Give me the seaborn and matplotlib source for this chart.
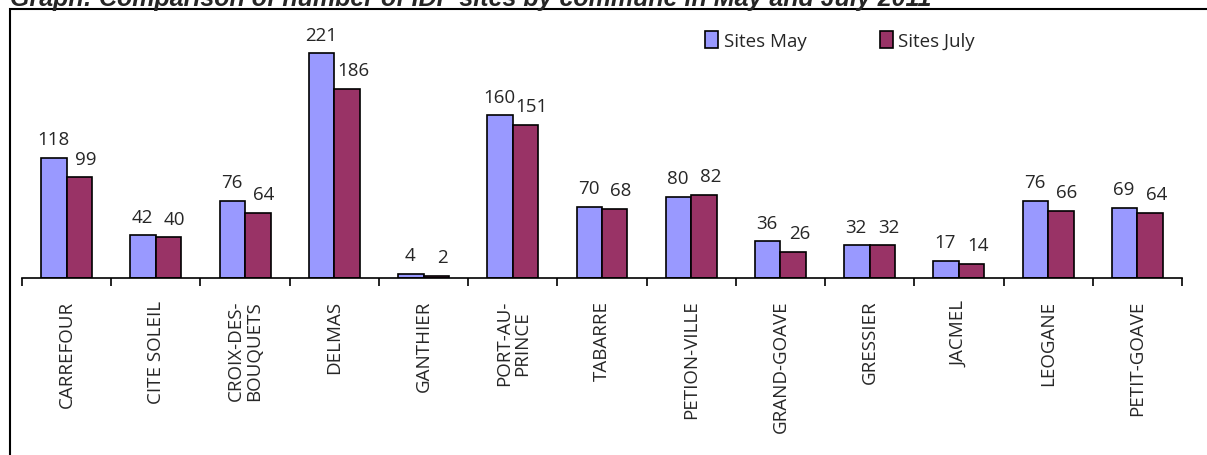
import matplotlib
matplotlib.use("Agg")
import matplotlib.pyplot as plt
import seaborn as sns
import pandas as pd
import numpy as np
from matplotlib.patches import Rectangle
from matplotlib.ticker import FixedLocator

communes = ["CARREFOUR", "CITE SOLEIL", "CROIX-DES-\nBOUQUETS", "DELMAS", "GANTHIER",
            "PORT-AU-\nPRINCE", "TABARRE", "PETION-VILLE", "GRAND-GOAVE", "GRESSIER",
            "JACMEL", "LEOGANE", "PETIT-GOAVE"]
sites_may = [118, 42, 76, 221, 4, 160, 70, 80, 36, 32, 17, 76, 69]
sites_july = [99, 40, 64, 186, 2, 151, 68, 82, 26, 32, 14, 66, 64]
series = ["Sites May", "Sites July"]
colors = ["#9999FF", "#993366"]

df = pd.DataFrame({
    "commune": communes * 2,
    "sites": sites_may + sites_july,
    "series": [series[0]] * len(communes) + [series[1]] * len(communes),
})

sns.set_style("white")
plt.rcParams["font.family"] = ["Open Sans", "DejaVu Sans"]

fig = plt.figure(figsize=(12.07, 4.56), dpi=100)
ax = fig.add_axes([22/1207, 1 - 279/456, (1182-22)/1207, (279-30)/456])

sns.barplot(data=df, x="commune", y="sites", hue="series", palette=colors,
            saturation=1, width=0.57, edgecolor="black", linewidth=1.2, ax=ax,
            legend=True)

shifts = [-0.5, 4.5]
for cont, dx in zip(ax.containers, shifts):
    anns = ax.bar_label(cont, padding=7, fontsize=13.5)
    for a in anns:
        a.xyann = (dx, 7)

ax.set_xlim(-0.5, len(communes) - 0.5)
ax.set_ylim(0, 245)
ax.set_yticks([])
ax.set_xlabel("")
ax.set_ylabel("")
for s in ["top", "right", "left"]:
    ax.spines[s].set_visible(False)
ax.spines["bottom"].set_color("black")
ax.spines["bottom"].set_linewidth(1.2)

ax.set_xticks(range(len(communes)))
ax.set_xticklabels(communes, rotation=90, fontsize=13.5, va="top", ha="center",
                   linespacing=1.0)
ax.tick_params(axis="x", which="major", length=0, pad=15.5)
ax.xaxis.set_minor_locator(FixedLocator(np.arange(-0.5, len(communes), 1.0)))
ax.tick_params(axis="x", which="minor", length=6, width=1.2, color="black",
               direction="out", bottom=True)

leg = ax.legend(loc="upper left", bbox_to_anchor=((688-22)/(1182-22), 1.06),
                ncol=2, frameon=False, fontsize=13.5, columnspacing=3.9,
                handlelength=0.7, handleheight=1.0, handletextpad=0.3)
for h in leg.legend_handles:
    h.set_edgecolor("black")
    h.set_linewidth(1.2)

# outer frame
fig.patches.append(Rectangle((10/1207, -0.2), 1.2, 1 - 10/456 + 0.2,
                             transform=fig.transFigure, fill=False,
                             edgecolor="black", linewidth=1.5, zorder=0))

fig.text(10/1207, 1 - 6/456, "Graph: Comparison of number of IDP sites by commune in May and July 2011",
         fontsize=18, fontweight="bold", fontstyle="italic", ha="left", va="baseline",
         family=["Liberation Sans", "DejaVu Sans"])

fig.savefig("out.png", dpi=100)
